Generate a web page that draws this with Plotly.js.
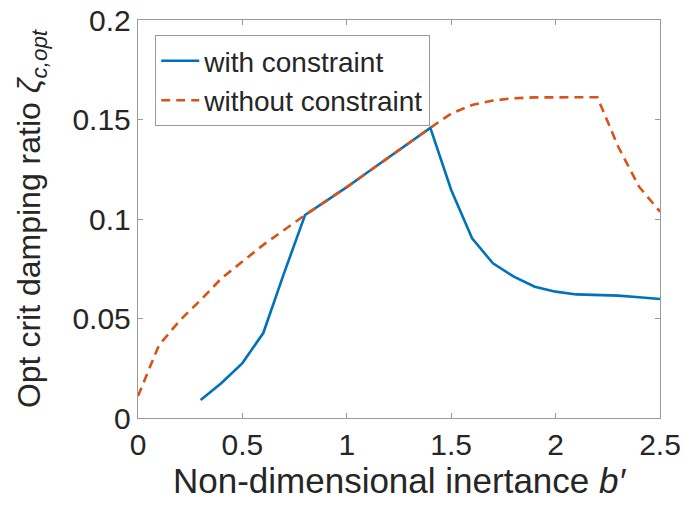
<!DOCTYPE html>
<html>
<head>
<meta charset="utf-8">
<script src="https://cdn.plot.ly/plotly-3.0.1.min.js"></script>
<style>html,body{margin:0;padding:0;background:#fff;}#chart{width:682px;height:509px;}</style>
</head>
<body>
<div id="chart"></div>
<script>
// Data
const xWith = [0.3, 0.4, 0.5, 0.6, 0.7, 0.8, 0.9, 1.0, 1.1, 1.2, 1.3, 1.4, 1.5, 1.6, 1.7, 1.8, 1.9, 2.0, 2.1, 2.2, 2.3, 2.4, 2.5];
const yWith = [0.009, 0.0176, 0.0276, 0.0427, 0.0729, 0.102, 0.109, 0.116, 0.1235, 0.131, 0.1385, 0.1458, 0.1146, 0.0903, 0.0777, 0.071, 0.066, 0.0635, 0.0621, 0.0618, 0.0615, 0.0607, 0.0598];
const xWithout = [0, 0.1, 0.2, 0.3, 0.4, 0.5, 0.6, 0.7, 0.8, 0.9, 1.0, 1.1, 1.2, 1.3, 1.4, 1.5, 1.6, 1.7, 1.8, 1.9, 2.0, 2.1, 2.2, 2.3, 2.4, 2.5];
const yWithout = [0.011, 0.0365, 0.049, 0.0593, 0.0702, 0.0786, 0.087, 0.0945, 0.102, 0.109, 0.116, 0.1235, 0.131, 0.1385, 0.1458, 0.153, 0.1573, 0.1595, 0.1607, 0.1611, 0.1612, 0.1612, 0.1612, 0.1363, 0.1162, 0.1037];
const xTicks = [0, 0.5, 1, 1.5, 2, 2.5];
const xTickText = ['0', '0.5', '1', '1.5', '2', '2.5'];
const yTicks = [0, 0.05, 0.1, 0.15, 0.2];
const yTickText = ['0', '0.05', '0.1', '0.15', '0.2'];
const seriesNames = ['with constraint', 'without constraint'];

const font = 'Liberation Sans, Arial, sans-serif';
const textColor = '#262626';
const axisColor = '#9a9a9a';

const traces = [
  {x: xWith, y: yWith, type: 'scatter', mode: 'lines', name: seriesNames[0],
   line: {color: '#0072BD', width: 2.6}},
  {x: xWithout, y: yWithout, type: 'scatter', mode: 'lines', name: seriesNames[1],
   line: {color: '#D95319', width: 2.6, dash: '9px,6px'}}
];

const axisCommon = {
  showgrid: false, zeroline: false, showline: true, mirror: 'ticks',
  linecolor: axisColor, linewidth: 1.2, ticks: 'inside', ticklen: 5,
  tickcolor: axisColor, tickwidth: 1,
  tickfont: {family: font, size: 30, color: textColor}
};

const layout = {
  width: 682, height: 509,
  margin: {l: 138, r: 22, t: 20, b: 91},
  paper_bgcolor: '#fff', plot_bgcolor: '#fff',
  showlegend: true,
  legend: {x: 0.033, y: 0.962, xanchor: 'left', yanchor: 'top',
    bgcolor: '#fff', bordercolor: axisColor, borderwidth: 1, itemwidth: 38,
    font: {family: font, size: 28, color: textColor}, tracegroupgap: 0},
  xaxis: Object.assign({}, axisCommon, {
    range: [0, 2.5], tickmode: 'array', tickvals: xTicks, ticktext: xTickText,
    title: {text: 'Non-dimensional inertance <i>b′</i>', font: {family: font, size: 35, color: textColor}, standoff: 6}
  }),
  yaxis: Object.assign({}, axisCommon, {
    range: [0, 0.2], tickmode: 'array', tickvals: yTicks, ticktext: yTickText,
    title: {text: 'Opt crit damping ratio <i>ζ</i><sub><i>c,opt</i></sub>', font: {family: font, size: 32, color: textColor}, standoff: 22}
  })
};

Plotly.newPlot('chart', traces, layout, {staticPlot: true, displayModeBar: false});
</script>
</body>
</html>
